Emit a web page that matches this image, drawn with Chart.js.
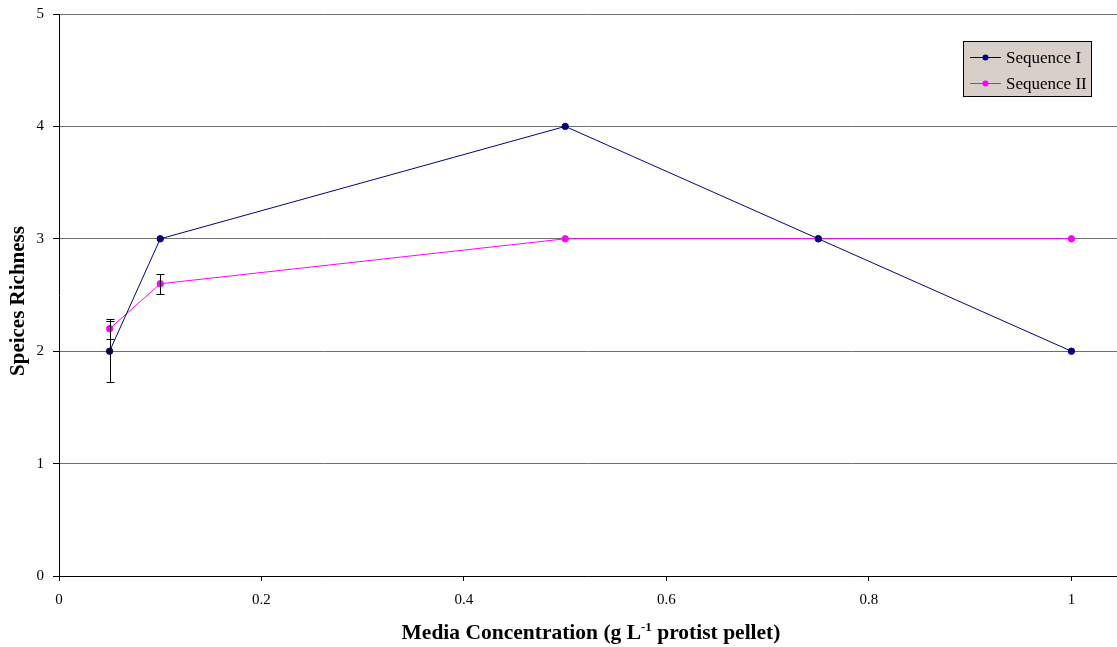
<!DOCTYPE html>
<html>
<head>
<meta charset="utf-8">
<title>Species Richness vs Media Concentration</title>
<script src="https://cdn.jsdelivr.net/npm/chart.js@4.4.0/dist/chart.umd.min.js"></script>
<style>
  html, body { margin: 0; padding: 0; background: #ffffff; overflow: hidden; }
  canvas { display: block; }
</style>
</head>
<body>
<canvas id="richChart" width="1117" height="647"></canvas>
<script>
// Données
const concentrations = [0.05, 0.1, 0.5, 0.75, 1];
const seqOne = [2, 3, 4, 3, 2];
const seqOneErr = [0.27, 0, 0, 0, 0];
const seqTwo = [2.2, 2.6, 3, 3, 3];
const seqTwoErr = [0.09, 0.09, 0, 0, 0];
const xTicks = [0, 0.2, 0.4, 0.6, 0.8, 1];
const yTicks = [0, 1, 2, 3, 4, 5];

const serif = '"Liberation Serif", "Times New Roman", serif';

function toPoints(xs, ys, errs) {
    return xs.map((x, i) => ({ x: x, y: ys[i], err: errs[i] }));
}

// Barres d'erreur verticales
const errorBars = {
    id: 'errorBars',
    afterDatasetsDraw(chart) {
        const ctx = chart.ctx;
        const xs = chart.scales.x;
        const ys = chart.scales.y;
        ctx.save();
        ctx.strokeStyle = '#000000';
        ctx.lineWidth = 1;
        chart.data.datasets.forEach(ds => {
            ds.data.forEach(p => {
                if (!p.err) return;
                const px = Math.round(xs.getPixelForValue(p.x)) + 0.5;
                const top = Math.round(ys.getPixelForValue(p.y + p.err)) + 0.5;
                const bot = Math.round(ys.getPixelForValue(p.y - p.err)) + 0.5;
                ctx.beginPath();
                ctx.moveTo(px, top);
                ctx.lineTo(px, bot);
                ctx.moveTo(px - 4, top);
                ctx.lineTo(px + 4, top);
                ctx.moveTo(px - 4, bot);
                ctx.lineTo(px + 4, bot);
                ctx.stroke();
            });
        });
        ctx.restore();
    }
};

// Titres des axes et légende
const decorations = {
    id: 'decorations',
    afterDraw(chart) {
        const ctx = chart.ctx;
        ctx.save();
        ctx.fillStyle = '#000000';

        // Titre axe Y
        ctx.font = 'bold 21px ' + serif;
        ctx.textAlign = 'center';
        ctx.textBaseline = 'middle';
        ctx.translate(19, 301);
        ctx.rotate(-Math.PI / 2);
        ctx.fillText('Speices Richness', 0, 0);
        ctx.setTransform(1, 0, 0, 1, 0, 0);

        // Titre axe X avec exposant
        const parts = [
            { t: 'Media Concentration (g L', sup: false },
            { t: '-1', sup: true },
            { t: ' protist pellet)', sup: false }
        ];
        const mainFont = 'bold 21.5px ' + serif;
        const supFont = 'bold 13px ' + serif;
        let total = 0;
        parts.forEach(p => {
            ctx.font = p.sup ? supFont : mainFont;
            p.w = ctx.measureText(p.t).width;
            total += p.w;
        });
        let x = 591 - total / 2;
        ctx.textAlign = 'left';
        ctx.textBaseline = 'alphabetic';
        parts.forEach(p => {
            ctx.font = p.sup ? supFont : mainFont;
            ctx.fillText(p.t, x, p.sup ? 631 : 639);
            x += p.w;
        });

        // Légende
        const lx = 963.5, ly = 41.5, lw = 128, lh = 55;
        ctx.fillStyle = '#d8d0c8';
        ctx.fillRect(lx, ly, lw, lh);
        ctx.strokeStyle = '#000000';
        ctx.lineWidth = 1;
        ctx.strokeRect(lx, ly, lw, lh);
        ctx.font = '17px ' + serif;
        ctx.textBaseline = 'middle';
        chart.data.datasets.forEach((ds, i) => {
            const rowY = 57.5 + i * 26;
            ctx.strokeStyle = ds.borderColor;
            ctx.beginPath();
            ctx.moveTo(970, rowY);
            ctx.lineTo(1001, rowY);
            ctx.stroke();
            ctx.fillStyle = ds.pointBackgroundColor;
            ctx.beginPath();
            ctx.arc(985.5, rowY, 3, 0, Math.PI * 2);
            ctx.fill();
            ctx.fillStyle = '#000000';
            ctx.fillText(ds.label, 1006, rowY + 1);
        });
        ctx.restore();
    }
};

const ctx = document.getElementById('richChart').getContext('2d');
const richChart = new Chart(ctx, {
    type: 'line',
    data: {
        datasets: [
            {
                label: 'Sequence I',
                data: toPoints(concentrations, seqOne, seqOneErr),
                borderColor: '#000080',
                backgroundColor: '#000080',
                pointBackgroundColor: '#000080',
                pointBorderColor: '#000080',
                pointRadius: 3.2,
                borderWidth: 1,
                tension: 0
            },
            {
                label: 'Sequence II',
                data: toPoints(concentrations, seqTwo, seqTwoErr),
                borderColor: '#ff00ff',
                backgroundColor: '#ff00ff',
                pointBackgroundColor: '#ff00ff',
                pointBorderColor: '#ff00ff',
                pointRadius: 3.2,
                borderWidth: 1,
                tension: 0
            }
        ]
    },
    options: {
        responsive: false,
        animation: false,
        events: [],
        layout: {
            autoPadding: false,
            padding: { top: 14, right: 0, left: 0, bottom: 0 }
        },
        plugins: {
            legend: { display: false },
            tooltip: { enabled: false }
        },
        scales: {
            x: {
                type: 'linear',
                min: 0,
                max: 1.045,
                afterBuildTicks: scale => { scale.ticks = xTicks.map(v => ({ value: v })); },
                afterFit: scale => {
                    scale.height = 71;
                    scale.paddingLeft = 0;
                    scale.paddingRight = 0;
                },
                grid: {
                    display: true,
                    drawOnChartArea: false,
                    drawTicks: true,
                    tickLength: 5,
                    tickColor: '#000000'
                },
                border: { display: true, color: '#000000', width: 1 },
                ticks: {
                    padding: 10,
                    color: '#000000',
                    maxRotation: 0,
                    font: { family: serif, size: 15 },
                    callback: v => String(v)
                }
            },
            y: {
                type: 'linear',
                min: 0,
                max: 5,
                afterBuildTicks: scale => { scale.ticks = yTicks.map(v => ({ value: v })); },
                afterFit: scale => {
                    scale.width = 59;
                    scale.paddingTop = 0;
                    scale.paddingBottom = 0;
                },
                grid: {
                    color: '#707070',
                    lineWidth: 1,
                    drawTicks: true,
                    tickLength: 6,
                    tickColor: '#000000'
                },
                border: { display: true, color: '#000000', width: 1 },
                ticks: {
                    padding: 9,
                    color: '#000000',
                    font: { family: serif, size: 15 }
                }
            }
        }
    },
    plugins: [errorBars, decorations]
});
</script>
</body>
</html>
